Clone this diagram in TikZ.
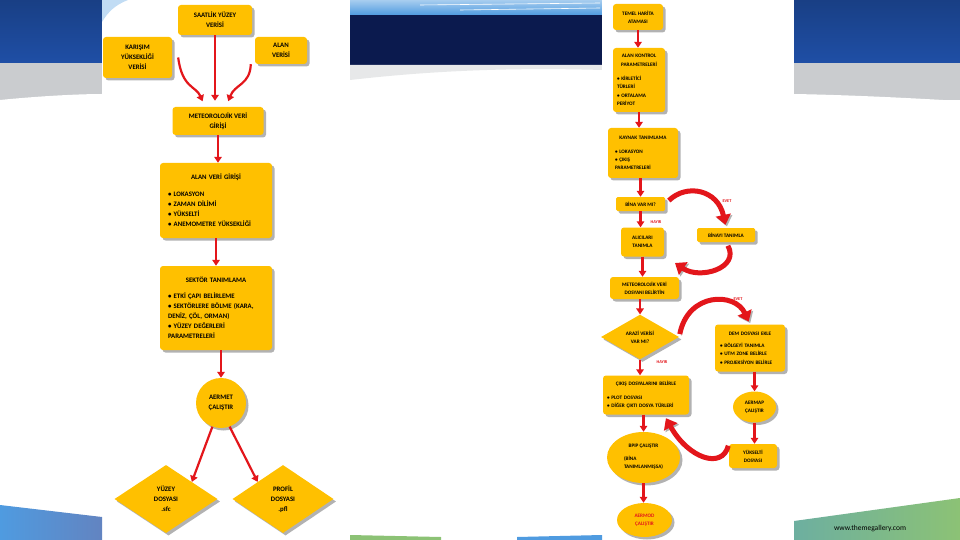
\documentclass[tikz,border=0pt]{standalone}
\usepackage{fontspec}
\newfontfamily\diafont{Carlito}
\usetikzlibrary{shapes.geometric,shadows,arrows.meta}

\definecolor{boxyellow}{HTML}{FFC000}
\definecolor{arrowred}{HTML}{E3161B}
\definecolor{tplblue}{HTML}{1F4FA6}
\definecolor{tplnavy}{HTML}{0B1A4E}
\definecolor{tplsky}{HTML}{4F9BE0}
\definecolor{tplgray}{HTML}{CACCCF}
\definecolor{tplgreen}{HTML}{8CC275}
\definecolor{tplteal}{HTML}{6DAFA0}

\tikzset{
  yellowbox/.style={fill=boxyellow, rounded corners=3pt, align=center, inner sep=1pt,
    drop shadow={shadow xshift=2.5pt, shadow yshift=-2.5pt, fill=black!50, opacity=.6}},
  listbox/.style={yellowbox, align=left},
  lfont/.style={font=\diafont\bfseries\fontsize{6.8}{10}\selectfont},
  rfont/.style={font=\diafont\bfseries\fontsize{5.2}{8.3}\selectfont},
  redarrow/.style={draw=arrowred, line width=2.2pt, -{Triangle[width=7.5pt,length=6pt]}},
  bigarrow/.style={draw=arrowred, line width=5pt, -{Triangle[width=15pt,length=10pt]},
    preaction={draw=black!30, transform canvas={shift={(1.5pt,-1.5pt)}}}},
  cevap/.style={text=arrowred, font=\diafont\bfseries\fontsize{4.3}{5}\selectfont},
}

\begin{document}
\begin{tikzpicture}[x=1pt,y=-1pt]
  \useasboundingbox (0,0) rectangle (960,540);

  % slide template behind the two panels
  \shade[top color=tplblue!80!black, bottom color=tplblue] (0,0) rectangle (960,63);
  \fill[tplgray] (0,63) rectangle (960,100);
  \fill[white] (0,100) .. controls (40,96) and (80,94) .. (102,94) -- (102,540) -- (0,540) -- cycle;
  \fill[white] (794,94) .. controls (850,95) and (910,98) .. (960,101) -- (960,540) -- (794,540) -- cycle;
  \shade[top color=tplsky!50, bottom color=tplsky] (350,0) rectangle (602,15);
  \draw[white, line width=0.6pt] (420,5) -- (600,3);
  \draw[white, line width=0.6pt] (460,10) -- (600,8);
  \fill[tplnavy] (350,15) rectangle (602,65);
  \fill[white] (350,65) rectangle (602,540);
  \fill[tplgray!45] (350,65) -- (602,65) -- (602,70) .. controls (500,67) and (420,72) .. (350,80) -- cycle;
  \fill[white] (102,0) rectangle (350,540);
  \fill[white] (602,0) rectangle (794,540);
  \fill[tplsky!35] (102,0) -- (128,0) .. controls (115,5) and (108,12) .. (102,22) -- cycle;
  \shade[left color=tplsky, right color=tplblue!70] (0,505) -- (102,517) -- (102,540) -- (0,540) -- cycle;
  \shade[left color=tplteal, right color=tplgreen] (794,521) -- (960,498) -- (960,540) -- (794,540) -- cycle;
  \fill[tplgreen] (350,535) -- (441,537) -- (441,540) -- (350,540) -- cycle;
  \fill[tplsky] (517,537) -- (602,535) -- (602,540) -- (517,540) -- cycle;
  \node[font=\diafont\fontsize{7.5}{9}\selectfont] (web) at (870,529) {www.themegallery.com};

  % AERMET side
  \node[yellowbox, lfont, minimum width=74pt, minimum height=30pt] (saatlik) at (215,20) {SAATLİK YÜZEY\\VERİSİ};
  \node[yellowbox, lfont, minimum width=69pt, minimum height=41pt] (karisim) at (137.5,57.5) {KARIŞIM\\YÜKSEKLİĞİ\\VERİSİ};
  \node[yellowbox, lfont, minimum width=52pt, minimum height=27pt] (alanveri) at (281,50.5) {ALAN\\VERİSİ};
  \node[yellowbox, lfont, minimum width=91pt, minimum height=28pt] (metgiris) at (218,121) {METEOROLOJİK VERİ\\GİRİŞİ};
  \node[listbox, lfont, text width=96pt, inner xsep=8pt, minimum height=75pt] (alangiris) at (216,200.5)
    {\makebox[\hsize]{ALAN VERİ GİRİŞİ}\\[7pt]
     \textbullet\ LOKASYON\\ \textbullet\ ZAMAN DİLİMİ\\ \textbullet\ YÜKSELTİ\\ \textbullet\ ANEMOMETRE YÜKSEKLİĞİ};
  \node[listbox, lfont, text width=96pt, inner xsep=8pt, minimum height=84pt] (sektor) at (216,308)
    {\makebox[\hsize]{SEKTÖR TANIMLAMA}\\[6pt]
     \textbullet\ ETKİ ÇAPI BELİRLEME\\ \textbullet\ SEKTÖRLERE BÖLME (KARA,\\ DENİZ, ÇÖL, ORMAN)\\
     \textbullet\ YÜZEY DEĞERLERİ\\ PARAMETRELERİ};
  \node[yellowbox, lfont, circle, minimum size=50pt] (aermet) at (221,403) {AERMET\\ÇALIŞTIR};
  \node[yellowbox, lfont, diamond, sharp corners, minimum width=103pt, minimum height=68pt] (yuzeydos) at (166,499) {YÜZEY\\DOSYASI\\.sfc};
  \node[yellowbox, lfont, diamond, sharp corners, minimum width=101pt, minimum height=68pt] (profildos) at (283,499) {PROFİL\\DOSYASI\\.pfl};

  \draw[redarrow, shorten >=6pt] (saatlik.south) -- (saatlik.south |- metgiris.north);
  \draw[redarrow, shorten >=6pt] ([xshift=6pt]karisim.east) .. controls (182,88) and (196,86) .. ([xshift=-13pt]metgiris.north);
  \draw[redarrow, shorten >=6pt] ([xshift=-4pt]alanveri.south west) .. controls (250,85) and (235,84) .. ([xshift=8pt]metgiris.north);
  \draw[redarrow] (metgiris.south) -- (metgiris.south |- alangiris.north);
  \draw[redarrow] (alangiris.south) -- (sektor.north);
  \draw[redarrow] (sektor.south -| aermet.north) -- (aermet.north);
  \draw[redarrow] (aermet.250) -- (yuzeydos.north east);
  \draw[redarrow] (aermet.290) -- (profildos.north west);

  % AERMOD side
  \node[yellowbox, rfont, minimum width=50pt, minimum height=26pt] (temel) at (638,17) {TEMEL HARİTA\\ATAMASI};
  \node[listbox, rfont, text width=44pt, inner xsep=4pt, minimum height=64pt] (alankontrol) at (639,80)
    {\makebox[\hsize]{ALAN KONTROL}\\ \makebox[\hsize]{PARAMETRELERİ}\\[6pt]
     \textbullet\ KİRLETİCİ\\ TÜRLERİ\\ \textbullet\ ORTALAMA\\ PERİYOT};
  \node[listbox, rfont, text width=56pt, inner xsep=7pt, minimum height=50pt] (kaynak) at (643,153)
    {\makebox[\hsize]{KAYNAK TANIMLAMA}\\[5pt] \textbullet\ LOKASYON\\ \textbullet\ ÇIKIŞ\\ PARAMETRELERİ};
  \node[yellowbox, rfont, rounded corners=1.5pt, minimum width=49pt, minimum height=14pt] (bina) at (640.5,204) {BİNA VAR MI?};
  \node[yellowbox, rfont, minimum width=43pt, minimum height=29pt] (alicilar) at (642.5,242) {ALICILARI\\TANIMLA};
  \node[yellowbox, rfont, rounded corners=1.5pt, minimum width=58pt, minimum height=14pt] (binatanim) at (726,235) {BİNAYI TANIMLA};
  \node[yellowbox, rfont, minimum width=69pt, minimum height=22pt] (metdosya) at (644.5,288) {METEOROLOJİK VERİ\\DOSYANI BELİRTİN};
  \node[yellowbox, rfont, diamond, sharp corners, minimum width=78pt, minimum height=40pt] (arazi) at (640,337) {ARAZİ VERİSİ\\VAR MI?};
  \node[listbox, rfont, text width=60pt, inner xsep=5pt, minimum height=47pt] (dem) at (750,348)
    {\makebox[\hsize]{DEM DOSYASI EKLE}\\[4pt] \textbullet\ BÖLGEYİ TANIMLA\\ \textbullet\ UTM ZONE BELİRLE\\ \textbullet\ PROJEKSİYON BELİRLE};
  \node[listbox, rfont, text width=78pt, inner xsep=4pt, minimum height=39pt] (cikis) at (646,395)
    {\makebox[\hsize]{ÇIKIŞ DOSYALARINI BELİRLE}\\[5pt] \textbullet\ PLOT DOSYASI\\ \textbullet\ DİĞER ÇIKTI DOSYA TÜRLERİ};
  \node[yellowbox, rfont, ellipse, inner sep=0pt, minimum width=43pt, minimum height=31pt] (aermap) at (754.5,407) {AERMAP\\ÇALIŞTIR};
  \node[yellowbox, rfont, minimum width=48pt, minimum height=24pt] (yukselti) at (753,456) {YÜKSELTİ\\DOSYASI};
  \node[yellowbox, rfont, ellipse, inner sep=0pt, minimum width=73pt, minimum height=51pt] (bpip) at (643.5,457.5)
    {BPIP ÇALIŞTIR\\[5pt]\begin{tabular}{@{}l@{}}(BİNA\\TANIMLANMIŞSA)\end{tabular}};
  \node[yellowbox, rfont, ellipse, text=arrowred, minimum width=55pt, minimum height=34pt] (aermod) at (644.5,520) {AERMOD\\ÇALIŞTIR};

  \node[cevap] (evet1) at (727,201) {EVET};
  \node[cevap] (hayir1) at (656,222) {HAYIR};
  \node[cevap] (evet2) at (738,299) {EVET};
  \node[cevap] (hayir2) at (662,362) {HAYIR};
  \coordinate (geri1) at (675,263);

  \draw[redarrow] (temel.south) -- (temel.south |- alankontrol.north);
  \draw[redarrow] (alankontrol.south) -- (alankontrol.south |- kaynak.north);
  \draw[redarrow] (kaynak.south -| bina.north) -- (bina.north);
  \draw[redarrow] (bina.south) -- (bina.south |- alicilar.north);
  \draw[redarrow] (alicilar.south) -- (alicilar.south |- metdosya.north);
  \draw[redarrow] (metdosya.south -| arazi.north) -- (arazi.north);
  \draw[redarrow] (arazi.south) -- (arazi.south |- cikis.north);
  \draw[redarrow] (cikis.south -| bpip.north) -- (bpip.north);
  \draw[redarrow] (bpip.south) -- (bpip.south |- aermod.north);
  \draw[redarrow] (dem.south -| aermap.north) -- (aermap.north);
  \draw[redarrow] (aermap.south) -- (aermap.south |- yukselti.north);

  \draw[bigarrow, shorten <=5pt, shorten >=3pt] (bina.east) .. controls (687,183) and (718,190) .. (binatanim.north);
  \draw[bigarrow, shorten <=4pt] (binatanim.south) .. controls (740,268) and (700,280) .. (geri1);
  \draw[bigarrow, shorten <=3pt, shorten >=3pt] (arazi.east) .. controls (688,292) and (735,292) .. (dem.north);
  \draw[bigarrow, shorten <=2pt, shorten >=4pt] (yukselti.north west) .. controls (722,470) and (688,458) .. ([xshift=18pt]cikis.south);
\end{tikzpicture}
\end{document}
